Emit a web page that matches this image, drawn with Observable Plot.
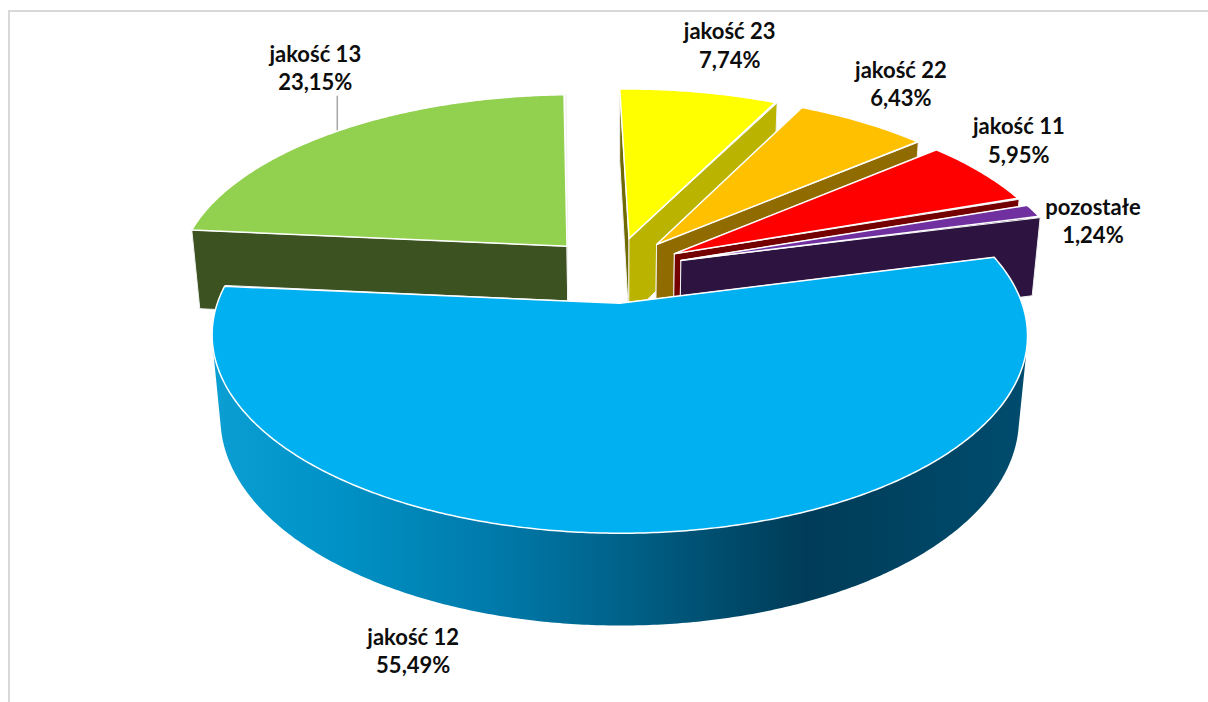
<!DOCTYPE html>
<html lang="pl">
<head>
<meta charset="utf-8">
<script src="https://cdn.jsdelivr.net/npm/d3@7"></script>
<script src="https://cdn.jsdelivr.net/npm/@observablehq/plot@0.6"></script>
<style>
  html, body { margin: 0; padding: 0; background: #fff; overflow: hidden; }
  #frame { position: absolute; left: 8px; top: 10px; right: -4px; bottom: -4px; border-top: 2px solid #d9d9d9; border-left: 2px solid #d9d9d9; }
  #chart { position: absolute; left: 0; top: 0; }
  #chart svg { display: block; }
</style>
</head>
<body>
<div id="frame"></div>
<div id="chart"></div>
<script>
// Data, clockwise from the first slice
const names = ["jakość 13", "jakość 23", "jakość 22", "jakość 11", "pozostałe", "jakość 12"];
const shares = [23.15, 7.74, 6.43, 5.95, 1.24, 55.49];

// Styles
const topColors = ["#92D050", "#FFFF00", "#FFC000", "#FF0000", "#7030A0", "#00B0F0"];
const startFaceColors = ["#3D5221", "#6F6B00", "#6F5200", "#5A0000", "#2D1440", "#00577A"];
const endFaceColors = ["#3D5221", "#BAB400", "#8F6B00", "#740000", "#2D1440", "#00577A"];
const labelDx = [-22, 30, 38, 37, 59, -245];
const labelDy = [-64.5, -48, -39.5, -33.5, 8.5, 117.5];

// 3D view of the pie
const W = 1208, H = 702;
const view = {x0: 613.5, cx: 391, a: 269.2, b: 139.8, p: 0.157, e: 87.7, q: 0.02, explode: 0.18, start: 275.4};
const rad = (d) => d * Math.PI / 180;
function project(u, v, depth) {
  const d = 1 - view.p * v + view.q * depth;
  return {x: view.x0 + view.cx * u / d, y: (view.a + view.b * v + view.e * depth) / d};
}

// Slice angles come from the shares
let acc = view.start;
const slices = shares.map((s, i) => {
  const a0 = acc % 360, a1 = a0 + s * 3.6; acc = a1;
  const mid = (a0 + a1) / 2;
  return {i, a0, a1, mid, ou: view.explode * Math.sin(rad(mid)), ov: -view.explode * Math.cos(rad(mid))};
});
const rimPoint = (sl, a, depth) => project(sl.ou + Math.sin(rad(a)), sl.ov - Math.cos(rad(a)), depth);
const apex = (sl, depth) => project(sl.ou, sl.ov, depth);
const arc = (sl, a0, a1, depth) => d3.range(0, 1.0001, 0.5 / Math.max(1, Math.abs(a1 - a0))).map((t) => rimPoint(sl, a0 + (a1 - a0) * t, depth));
const closed = (pts) => [...pts, pts[0]];

const poly = (pts, fill, stroke, strokeWidth) =>
  Plot.line(closed(pts), {x: "x", y: "y", fill, stroke, strokeWidth, strokeLinejoin: "round", curve: "linear"});

// Shading of the outer wall, left to right across the picture
const gradient = () => {
  const g = d3.create("svg:linearGradient").attr("id", "wall").attr("gradientUnits", "userSpaceOnUse")
    .attr("x1", 215).attr("x2", 1025).attr("y1", 0).attr("y2", 0);
  [[0, "#0A9ED2"], [0.15, "#0092C6"], [0.35, "#0079A9"], [0.52, "#005F85"], [0.65, "#004868"], [0.73, "#003C58"], [1, "#004C6E"]]
    .forEach(([o, c]) => g.append("stop").attr("offset", o).attr("stop-color", c));
  const defs = d3.create("svg:defs");
  defs.append(() => g.node());
  return defs.node();
};

const marks = [gradient];
for (const sl of slices) {
  const i = sl.i;
  const a = apex(sl, 0), ab = apex(sl, 1);
  // outer wall: only the part that faces the viewer
  const w0 = Math.max(sl.a0, 102), w1 = Math.min(sl.a1, 258);
  if (w1 > w0) marks.push(poly([...arc(sl, w0, w1, 0), ...arc(sl, w1, w0, 1)], "url(#wall)", "none", 0));
  // cut faces
  marks.push(poly([a, rimPoint(sl, sl.a0, 0), rimPoint(sl, sl.a0, 1), ab], startFaceColors[i], "#f2f2f2", 1));
  marks.push(poly([a, rimPoint(sl, sl.a1, 0), rimPoint(sl, sl.a1, 1), ab], endFaceColors[i], "#f2f2f2", 1));
  // top surface
  marks.push(poly([a, ...arc(sl, sl.a0, sl.a1, 0)], topColors[i], "#ffffff", 1.5));
}

// Leader of the largest back slice
const green = slices[0], greenRim = rimPoint(green, green.mid, 0);
marks.unshift(Plot.ruleX([greenRim], {x: "x", y1: "y", y2: (d) => d.y - 35, stroke: "#a6a6a6", strokeWidth: 1.5}));

// Labels
const labelRows = slices.map((sl) => ({
  ...rimPoint(sl, sl.mid, 0),
  text: `${names[sl.i]}\n${shares[sl.i].toFixed(2).replace(".", ",")}%`,
  dx: labelDx[sl.i], dy: labelDy[sl.i]
}));
for (const r of labelRows) {
  marks.push(Plot.text([r], {x: "x", y: "y", text: "text", dx: r.dx, dy: r.dy, fill: "#0d0d0d",
    fontFamily: "Lato", fontWeight: 700, fontSize: 22, lineHeight: 1.3, textAnchor: "middle"}));
}

const chart = Plot.plot({
  width: W, height: H, margin: 0,
  style: {background: "transparent", overflow: "visible"},
  x: {domain: [0, W], range: [0, W], axis: null},
  y: {domain: [0, H], range: [0, H], axis: null},
  marks
});
document.getElementById("chart").append(chart);
</script>
</body>
</html>
